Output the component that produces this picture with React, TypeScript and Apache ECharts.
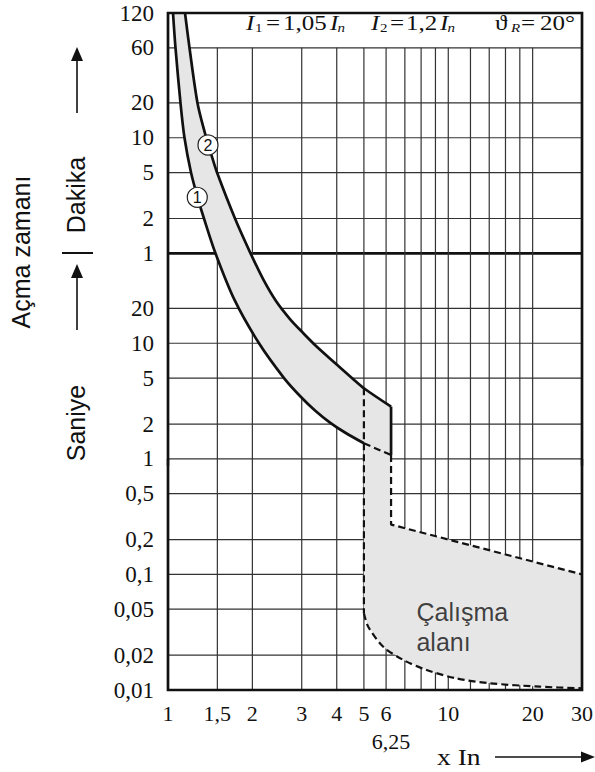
import React, { useEffect, useRef } from 'react';
import * as echarts from 'echarts';

const lg = (v: number) => Math.log10(v);

// ---------- axes (x in multiples of In, y in seconds) ----------
const X_MIN = 1;
const X_MAX = 30;
const X_LABEL_VALUES = [1, 1.5, 2, 3, 4, 5, 6, 6.25, 10, 20, 30];
const X_LABEL_TEXTS = ['1', '1,5', '2', '3', '4', '5', '6', '\n6,25', '10', '20', '30'];
const X_GRID = [1.5, 2, 3, 4, 5, 6, 7, 8, 9, 10, 12, 14, 16, 18, 20];
const X_TICKS = [1, 30];

const Y_MIN = 0.01;
const Y_MAX = 7200;
const Y_GRID_TOP = 3600;
const Y_LABEL_VALUES = [7200, 3600, 1200, 600, 300, 120, 60, 20, 10, 5, 2, 1, 0.5, 0.2, 0.1, 0.05, 0.02, 0.01];
const Y_LABEL_TEXTS = ['120', '60', '20', '10', '5', '2', '1', '20', '10', '5', '2', '1', '0,5', '0,2', '0,1', '0,05', '0,02', '0,01'];
const Y_GRID = [3600, 1200, 600, 300, 120, 60, 20, 10, 5, 2, 1, 0.5, 0.2, 0.1, 0.05, 0.02];
const Y_BOLD = 60;

// ---------- curves [x In, seconds] ----------
const CURVE1 = [
  [1.042, 7200], [1.0635, 3600], [1.108, 1200], [1.145, 600], [1.208, 300], [1.274, 184],
  [1.344, 120], [1.477, 60], [1.727, 23.7], [2.112, 10], [2.594, 5], [2.958, 3.5], [3.346, 2.62],
  [3.784, 2.06], [4.28, 1.69], [5, 1.363],
];
const CURVE1_DASHED = [[5, 1.363], [6.25, 1.08]];
const CURVE2 = [
  [1.15, 7200], [1.193, 3600], [1.274, 1200], [1.355, 656], [1.429, 425], [1.496, 300], [1.734, 120],
  [1.97, 60], [2.192, 35.3], [2.428, 23.2], [2.724, 16.2], [3.031, 12.3], [3.374, 9.47], [3.943, 6.75],
  [4.572, 4.91], [5, 4.08], [6.25, 2.83],
];
const CURVE2_DROP = [[6.25, 2.83], [6.25, 1.08]];
const UPPER_RIGHT = [[6.25, 1.08], [6.25, 0.27], [30, 0.1]];
const X5_DROP = [[5, 4.08], [5, 0.0461]];
const LOWER_CURVE = [
  [5, 0.0461], [5.18, 0.0353], [5.86, 0.0237], [6.91, 0.0182], [8.37, 0.0149],
  [10.7, 0.0126], [14.1, 0.01143], [21.3, 0.01068], [30, 0.01034],
];

const MARKER_X = [1.272, 1.389];
const MARKER_Y = [183, 519];
const MARKER_TEXT = ['1', '2'];

const AREA_LABEL_X = 7.73;
const AREA_LABEL_Y = 0.0344;
const AREA_LABEL = 'Çalışma\nalanı';

const FILL = [
  ...CURVE1,
  ...LOWER_CURVE,
  ...[...UPPER_RIGHT].reverse(),
  ...[...CURVE2].reverse(),
];

const toLg = (pts: number[][]) => pts.map((p) => [lg(p[0]), lg(p[1])]);

const SERIF = "'Liberation Serif', 'Times New Roman', 'DejaVu Serif', serif";
const SANS = "'Liberation Sans', Arial, 'DejaVu Sans', sans-serif";
const INK = '#111';

function findText(values: number[], texts: string[], v: number) {
  for (let i = 0; i < values.length; i++) {
    if (Math.abs(lg(values[i]) - v) < 1e-6) return texts[i];
  }
  return '';
}

function lineSeries(name: string, pts: number[][], dashed: boolean, smooth: number | boolean) {
  return {
    name,
    type: 'line',
    data: toLg(pts),
    showSymbol: false,
    symbol: 'none',
    smooth,
    silent: true,
    z: 4,
    lineStyle: { color: INK, width: dashed ? 2.2 : 2.7, type: dashed ? [7, 4] : 'solid', cap: 'butt' },
  };
}

function headerText(text: string, x: number, y: number, size: number, italic: boolean) {
  return {
    type: 'text',
    x,
    y,
    scaleX: 1.25,
    silent: true,
    style: {
      text,
      fill: INK,
      font: `${italic ? 'italic ' : ''}${size}px ${SERIF}`,
      align: 'left',
      verticalAlign: 'middle',
    },
  };
}

export default function App() {
  const ref = useRef<HTMLDivElement>(null);

  useEffect(() => {
    if (!ref.current) return;
    const chart = echarts.init(ref.current, null, { renderer: 'svg' });

    const option: any = {
      animation: false,
      backgroundColor: '#fff',
      textStyle: { fontFamily: SERIF },
      grid: { left: 168, right: 13, top: 13, bottom: 82, containLabel: false, outerBoundsMode: 'none' },
      xAxis: {
        type: 'value',
        min: lg(X_MIN),
        max: lg(X_MAX),
        axisLine: { show: false },
        splitLine: { show: false },
        axisTick: {
          show: true,
          customValues: X_TICKS.map(lg),
          length: 7,
          lineStyle: { color: INK, width: 2.4 },
        },
        axisLabel: {
          customValues: X_LABEL_VALUES.map(lg),
          formatter: (v: number) => findText(X_LABEL_VALUES, X_LABEL_TEXTS, v),
          fontFamily: SERIF,
          fontSize: 22,
          lineHeight: 28,
          color: INK,
          margin: 9,
        },
      },
      yAxis: {
        type: 'value',
        min: lg(Y_MIN),
        max: lg(Y_MAX),
        axisLine: { show: false },
        splitLine: { show: false },
        axisTick: { show: false },
        axisLabel: {
          customValues: Y_LABEL_VALUES.map(lg),
          formatter: (v: number) => findText(Y_LABEL_VALUES, Y_LABEL_TEXTS, v),
          fontFamily: SERIF,
          fontSize: 23,
          color: INK,
          margin: 14,
        },
      },
      series: [
        {
          name: 'hgrid',
          type: 'custom',
          silent: true,
          z: 1,
          data: Y_GRID.map((v) => [lg(X_MIN), lg(v)]),
          renderItem: (_p: any, api: any) => {
            const y = api.value(1);
            const a = api.coord([lg(X_MIN), y]);
            const b = api.coord([lg(X_MAX), y]);
            const bold = Math.abs(y - lg(Y_BOLD)) < 1e-6;
            return {
              type: 'line',
              shape: { x1: a[0], y1: a[1], x2: b[0], y2: b[1] },
              style: { stroke: bold ? INK : '#333', lineWidth: bold ? 2.7 : 1.2 },
            };
          },
        },
        {
          name: 'vgrid',
          type: 'custom',
          silent: true,
          z: 1,
          data: X_GRID.map((v) => [lg(v), lg(Y_MIN)]),
          renderItem: (_p: any, api: any) => {
            const x = api.value(0);
            const a = api.coord([x, lg(Y_MIN)]);
            const b = api.coord([x, lg(Y_GRID_TOP)]);
            return {
              type: 'line',
              shape: { x1: a[0], y1: a[1], x2: b[0], y2: b[1] },
              style: { stroke: '#333', lineWidth: 1.2 },
            };
          },
        },
        {
          name: 'fill',
          type: 'custom',
          silent: true,
          z: 2,
          data: [[lg(X_MIN), lg(Y_MIN)]],
          renderItem: (_p: any, api: any) => ({
            type: 'polygon',
            shape: { points: toLg(FILL).map((p) => api.coord(p)) },
            style: { fill: '#e6e6e6', stroke: 'none' },
          }),
        },
        {
          name: 'frame',
          type: 'custom',
          silent: true,
          z: 5,
          data: [[lg(X_MIN), lg(Y_MIN)]],
          renderItem: (_p: any, api: any) => {
            const a = api.coord([lg(X_MIN), lg(Y_MAX)]);
            const b = api.coord([lg(X_MAX), lg(Y_MIN)]);
            return {
              type: 'rect',
              shape: { x: a[0], y: a[1], width: b[0] - a[0], height: b[1] - a[1] },
              style: { fill: 'none', stroke: INK, lineWidth: 2.7 },
            };
          },
        },
        lineSeries('curve1', CURVE1, false, 0.3),
        lineSeries('curve1-dashed', CURVE1_DASHED, true, false),
        lineSeries('curve2', CURVE2, false, 0.3),
        lineSeries('curve2-drop', CURVE2_DROP, false, false),
        lineSeries('upper-right', UPPER_RIGHT, true, false),
        lineSeries('x5-drop', X5_DROP, true, false),
        lineSeries('lower-curve', LOWER_CURVE, true, 0.3),
        {
          name: 'markers',
          type: 'scatter',
          silent: true,
          z: 6,
          symbol: 'circle',
          symbolSize: 20,
          data: MARKER_X.map((x, i) => [lg(x), lg(MARKER_Y[i])]),
          itemStyle: { color: '#fff', borderColor: '#222', borderWidth: 1.2, opacity: 1 },
          label: {
            show: true,
            position: 'inside',
            formatter: (p: any) => MARKER_TEXT[p.dataIndex],
            fontFamily: SANS,
            fontSize: 16,
            color: INK,
          },
        },
        {
          name: 'area-label',
          type: 'scatter',
          silent: true,
          z: 6,
          symbolSize: 1,
          data: [[lg(AREA_LABEL_X), lg(AREA_LABEL_Y)]],
          itemStyle: { color: 'rgba(0,0,0,0)' },
          label: {
            show: true,
            position: [0, 0],
            align: 'left',
            verticalAlign: 'middle',
            formatter: AREA_LABEL,
            fontFamily: SANS,
            fontSize: 25,
            lineHeight: 30,
            color: INK,
          },
        },
      ],
      graphic: [
        headerText('I', 246, 23, 20, true),
        headerText('1', 255, 28, 12, false),
        headerText('=', 266, 23, 20, false),
        headerText('1,05', 283, 23, 20, false),
        headerText('I', 330, 23, 20, true),
        headerText('n', 337.5, 28, 12, true),
        headerText('I', 371, 23, 20, true),
        headerText('2', 380, 28, 12, false),
        headerText('=', 390, 23, 20, false),
        headerText('1,2', 406, 23, 20, false),
        headerText('I', 440, 23, 20, true),
        headerText('n', 447.5, 28, 12, true),
        headerText('ϑ', 495, 23, 20, false),
        headerText('R', 511, 28, 12, true),
        headerText('=', 521, 23, 20, false),
        headerText('20°', 540, 23, 20, false),
        // left axis titles
        {
          type: 'text', x: 21, y: 252, rotation: Math.PI / 2, silent: true,
          style: { text: 'Açma zamanı', fill: INK, font: `25px ${SANS}`, align: 'center', verticalAlign: 'middle' },
        },
        {
          type: 'text', x: 76, y: 195, rotation: Math.PI / 2, silent: true,
          style: { text: 'Dakika', fill: INK, font: `25px ${SANS}`, align: 'center', verticalAlign: 'middle' },
        },
        {
          type: 'text', x: 76, y: 423, rotation: Math.PI / 2, silent: true,
          style: { text: 'Saniye', fill: INK, font: `25px ${SANS}`, align: 'center', verticalAlign: 'middle' },
        },
        { type: 'line', silent: true, shape: { x1: 77, y1: 113, x2: 77, y2: 58 }, style: { stroke: INK, lineWidth: 1.6 } },
        { type: 'polygon', silent: true, shape: { points: [[77, 47], [71, 61], [83, 61]] }, style: { fill: INK } },
        { type: 'line', silent: true, shape: { x1: 77, y1: 330, x2: 77, y2: 275 }, style: { stroke: INK, lineWidth: 1.6 } },
        { type: 'polygon', silent: true, shape: { points: [[77, 264], [71, 278], [83, 278]] }, style: { fill: INK } },
        { type: 'line', silent: true, shape: { x1: 62, y1: 253, x2: 93, y2: 253 }, style: { stroke: INK, lineWidth: 2 } },
        // x unit + arrow
        {
          type: 'text', x: 437, y: 757, scaleX: 1.2, silent: true,
          style: { text: 'x In', fill: INK, font: `23px ${SERIF}`, align: 'left', verticalAlign: 'middle' },
        },
        { type: 'line', silent: true, shape: { x1: 495, y1: 757, x2: 584, y2: 757 }, style: { stroke: INK, lineWidth: 1.6 } },
        { type: 'polygon', silent: true, shape: { points: [[595, 757], [581, 751.5], [581, 762.5]] }, style: { fill: INK } },
      ],
    };

    chart.setOption(option);
    return () => chart.dispose();
  }, []);

  return (
    <div
      ref={ref}
      style={{ position: 'fixed', left: 0, top: 0, width: 595, height: 772, background: '#fff' }}
    />
  );
}
